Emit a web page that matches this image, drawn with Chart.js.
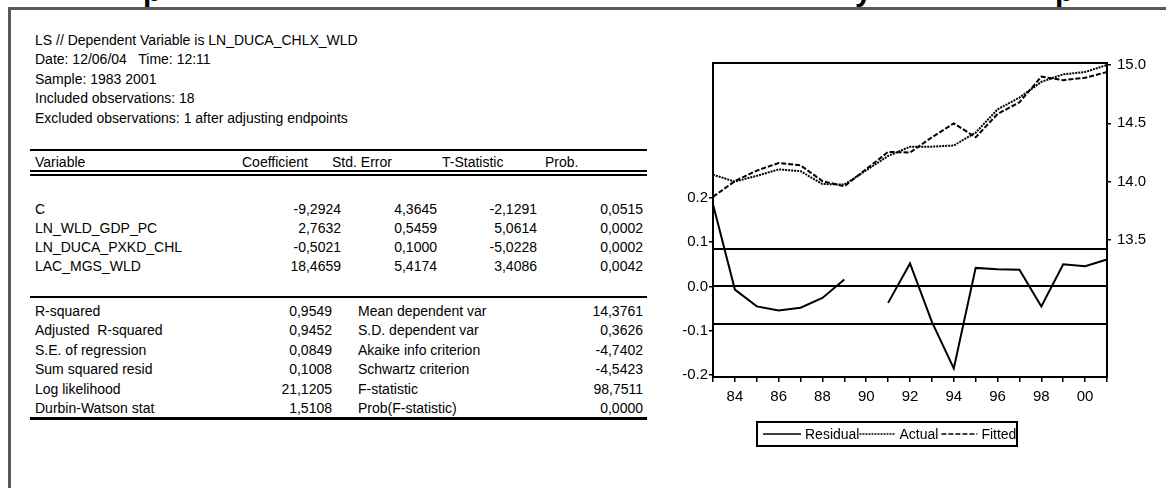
<!DOCTYPE html>
<html>
<head>
<meta charset="utf-8">
<script src="https://cdn.jsdelivr.net/npm/chart.js@4.4.1/dist/chart.umd.min.js"></script>
<style>
    html, body { margin: 0; padding: 0; background: #fff; }
    body {
        width: 1166px; height: 488px; position: relative; overflow: hidden;
        font-family: Arial, "Liberation Sans", sans-serif; font-size: 14px; color: #000;
    }
    .frame-top { position: absolute; left: 8px; top: 7px; width: 1158px; height: 3px; background: #595959; }
    .frame-left { position: absolute; left: 8px; top: 7px; width: 3px; height: 481px; background: #595959; }
    .cut { position: absolute; left: 0; top: 0; width: 1166px; height: 7px; overflow: hidden; }
    .cut span { position: absolute; top: -24px; font: bold 30px Arial, "Liberation Sans", sans-serif; line-height: 30px; }
    .t { position: absolute; white-space: pre; line-height: 19px; }
    .r { text-align: right; width: 120px; }
    .rule { position: absolute; left: 30px; width: 617px; background: #000; }
    #chartBox { position: absolute; left: 640px; top: 40px; width: 526px; height: 420px; }
</style>
</head>
<body>
<div class="cut"><span style="left:143px">p</span><span style="left:855px">y</span><span style="left:1055px">p</span></div>
<div class="frame-top"></div>
<div class="frame-left"></div>
<div id="report"></div>
<div id="chartBox"><canvas id="residChart" width="526" height="420"></canvas></div>

<script>
// header of the regression output
const headerLines = [
    'LS // Dependent Variable is LN_DUCA_CHLX_WLD',
    'Date: 12/06/04   Time: 12:11',
    'Sample: 1983 2001',
    'Included observations: 18',
    'Excluded observations: 1 after adjusting endpoints'
];

// coefficient table
const varNames = ['C', 'LN_WLD_GDP_PC', 'LN_DUCA_PXKD_CHL', 'LAC_MGS_WLD'];
const coefs = ['-9,2924', '2,7632', '-0,5021', '18,4659'];
const stdErrs = ['4,3645', '0,5459', '0,1000', '5,4174'];
const tStats = ['-2,1291', '5,0614', '-5,0228', '3,4086'];
const probs = ['0,0515', '0,0002', '0,0002', '0,0042'];

// summary statistics
const statNamesL = ['R-squared', 'Adjusted  R-squared', 'S.E. of regression', 'Sum squared resid', 'Log likelihood', 'Durbin-Watson stat'];
const statValsL = ['0,9549', '0,9452', '0,0849', '0,1008', '21,1205', '1,5108'];
const statNamesR = ['Mean dependent var', 'S.D. dependent var', 'Akaike info criterion', 'Schwartz criterion', 'F-statistic', 'Prob(F-statistic)'];
const statValsR = ['14,3761', '0,3626', '-4,7402', '-4,5423', '98,7511', '0,0000'];

// chart data (1990 was excluded)
const years = ['1983', '1984', '1985', '1986', '1987', '1988', '1989', '1990', '1991', '1992',
               '1993', '1994', '1995', '1996', '1997', '1998', '1999', '2000', '2001'];
const residual = [0.186, -0.007, -0.045, -0.054, -0.048, -0.026, 0.016, null, -0.037, 0.052,
                  -0.080, -0.185, 0.042, 0.039, 0.038, -0.045, 0.050, 0.046, 0.061];
const actual = [14.06, 14.00, 14.05, 14.105, 14.09, 13.98, 13.975, null, 14.22, 14.30,
                14.30, 14.31, 14.42, 14.62, 14.72, 14.855, 14.92, 14.94, 15.00];
const fitted = [13.87, 14.005, 14.095, 14.16, 14.14, 14.005, 13.96, null, 14.255, 14.25,
                14.38, 14.50, 14.38, 14.58, 14.68, 14.90, 14.87, 14.89, 14.94];
const residTicks = [-0.2, -0.1, 0.0, 0.1, 0.2];
const levelTicks = [13.5, 14.0, 14.5, 15.0];
const seLines = [0.0849, 0, -0.0849];

const FONT = 'Arial, "Liberation Sans", sans-serif';

function addText(text, left, top, right) {
    const el = document.createElement('div');
    el.className = 't' + (right ? ' r' : '');
    el.textContent = text;
    el.style.left = (right ? left - 120 : left) + 'px';
    el.style.top = top + 'px';
    document.getElementById('report').appendChild(el);
}

function addRule(top, height) {
    const el = document.createElement('div');
    el.className = 'rule';
    el.style.top = top + 'px';
    el.style.height = height + 'px';
    document.getElementById('report').appendChild(el);
}

headerLines.forEach((line, i) => addText(line, 35, 30.5 + i * 19.6));

addRule(149, 2);
addText('Variable', 35, 152.5);
addText('Coefficient', 242, 152.5);
addText('Std. Error', 332, 152.5);
addText('T-Statistic', 442, 152.5);
addText('Prob.', 545, 152.5);
addRule(170, 2);
addRule(174, 2);

varNames.forEach((name, i) => {
    const top = 199.5 + i * 19;
    addText(name, 35, top);
    addText(coefs[i], 341, top, true);
    addText(stdErrs[i], 437, top, true);
    addText(tStats[i], 537, top, true);
    addText(probs[i], 643, top, true);
});

addRule(296, 2);
statNamesL.forEach((name, i) => {
    const top = 301.5 + i * 19.5;
    addText(name, 35, top);
    addText(statValsL[i], 332, top, true);
    addText(statNamesR[i], 358, top);
    addText(statValsR[i], 643, top, true);
});
addRule(417, 3);

// box around the plot + the S.E. bands on the residual axis
const framePlugin = {
    id: 'frame',
    beforeDatasetsDraw(chart) {
        const { ctx, chartArea: a } = chart;
        const yL = chart.scales.yL;
        ctx.save();
        ctx.strokeStyle = '#000';
        ctx.lineWidth = 2;
        seLines.forEach(v => {
            const y = Math.round(yL.getPixelForValue(v));
            ctx.beginPath();
            ctx.moveTo(a.left, y);
            ctx.lineTo(a.right, y);
            ctx.stroke();
        });
        ctx.strokeRect(a.left, a.top, a.right - a.left, a.bottom - a.top);
        ctx.restore();
    }
};

// legend in a box under the plot, eviews style
const boxLegend = {
    id: 'boxLegend',
    afterDraw(chart) {
        const ctx = chart.ctx;
        const bx = 117, by = 382, bw = 260, bh = 24;
        const midY = by + bh / 2;
        ctx.save();
        ctx.strokeStyle = '#000';
        ctx.lineWidth = 2;
        ctx.strokeRect(bx, by, bw, bh);
        ctx.font = '14px ' + FONT;
        ctx.fillStyle = '#000';
        ctx.textBaseline = 'middle';
        let x = bx + 6;
        chart.data.datasets.forEach((ds, i) => {
            const len = i === 0 ? 38 : 36;
            ctx.setLineDash(ds.borderDash || []);
            ctx.lineWidth = 1.5;
            ctx.beginPath();
            ctx.moveTo(x, midY);
            ctx.lineTo(x + len, midY);
            ctx.stroke();
            ctx.setLineDash([]);
            x += len + 4;
            ctx.fillText(ds.label, x, midY + 1);
            x += ctx.measureText(ds.label).width + (i === 0 ? 0 : 3);
        });
        ctx.restore();
    }
};

const axisFont = { family: FONT, size: 15 };

new Chart(document.getElementById('residChart').getContext('2d'), {
    type: 'line',
    data: {
        labels: years,
        datasets: [
            { label: 'Residual', data: residual, yAxisID: 'yL', borderColor: '#000', borderWidth: 2, pointRadius: 0, spanGaps: false, tension: 0 },
            { label: 'Actual', data: actual, yAxisID: 'yR', borderColor: '#000', borderWidth: 2, borderDash: [2, 1], pointRadius: 0, spanGaps: true, tension: 0 },
            { label: 'Fitted', data: fitted, yAxisID: 'yR', borderColor: '#000', borderWidth: 2, borderDash: [5, 2], pointRadius: 0, spanGaps: true, tension: 0 }
        ]
    },
    options: {
        responsive: false,
        animation: false,
        layout: { padding: { top: 23, bottom: 53, left: 0, right: 0 } },
        plugins: { legend: { display: false }, tooltip: { enabled: false } },
        scales: {
            x: {
                type: 'category',
                offset: false,
                grid: { drawOnChartArea: false, tickLength: 5, color: '#000', lineWidth: 1.5 },
                border: { color: '#000', width: 2 },
                ticks: {
                    autoSkip: false, maxRotation: 0, color: '#000', font: axisFont, padding: 6,
                    callback: function (value) {
                        const yr = Number(this.getLabelForValue(value));
                        return yr % 2 === 0 ? String(yr % 100).padStart(2, '0') : '';
                    }
                },
                afterFit(scale) { scale.height = 30; }
            },
            yL: {
                position: 'left',
                min: -0.2045,
                max: 0.505,
                afterBuildTicks(scale) { scale.ticks = residTicks.map(v => ({ value: v })); },
                grid: { drawOnChartArea: false, tickLength: 4, color: '#000', lineWidth: 1.5 },
                border: { color: '#000', width: 2 },
                ticks: { color: '#000', font: axisFont, padding: 1, callback: v => v.toFixed(1) },
                afterFit(scale) { scale.width = 73; }
            },
            yR: {
                position: 'right',
                min: 12.326,
                max: 15.017,
                afterBuildTicks(scale) { scale.ticks = levelTicks.map(v => ({ value: v })); },
                grid: { drawOnChartArea: false, tickLength: 4, color: '#000', lineWidth: 1.5 },
                border: { color: '#000', width: 2 },
                ticks: { color: '#000', font: axisFont, padding: 6, callback: v => v.toFixed(1) },
                afterFit(scale) { scale.width = 59; }
            }
        }
    },
    plugins: [framePlugin, boxLegend]
});
</script>
</body>
</html>
